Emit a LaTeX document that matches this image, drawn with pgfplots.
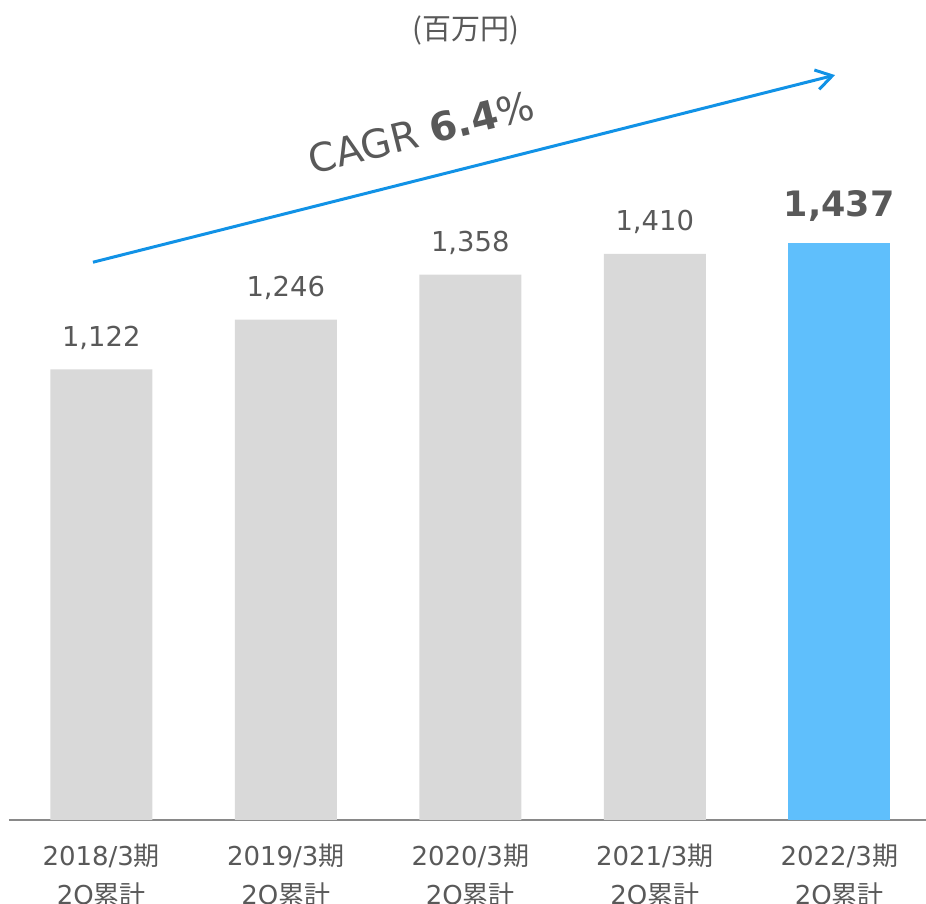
\documentclass[border=0pt]{standalone}
\usepackage{fontspec}
\setmainfont{DejaVu Sans}
\newfontfamily\cjk{Noto Sans CJK JP}
\usepackage{pgfplots}
\pgfplotsset{compat=1.18}
\usetikzlibrary{arrows.meta}
\definecolor{txt}{HTML}{595959}
\definecolor{bargray}{HTML}{D9D9D9}
\definecolor{barblue}{HTML}{5FBFFC}
\definecolor{arrowblue}{HTML}{1192E6}
\definecolor{axisgray}{HTML}{898989}

\begin{document}
\begin{tikzpicture}
\path[use as bounding box] (-4.5pt,-42pt) rectangle (458.5pt,410pt);
\begin{axis}[
  scale only axis, width=458.5pt, height=410pt,
  xmin=-0.5, xmax=4.47, ymin=0, ymax=2042,
  ybar, clip=false,
  axis x line*=bottom, axis y line=none,
  x axis line style={draw=axisgray, line width=1pt},
  xtick={0,...,4}, major tick length=0pt,
  xticklabels={{2018/3{\cjk 期}\\2Q{\cjk 累計}},{2019/3{\cjk 期}\\2Q{\cjk 累計}},{2020/3{\cjk 期}\\2Q{\cjk 累計}},{2021/3{\cjk 期}\\2Q{\cjk 累計}},{2022/3{\cjk 期}\\2Q{\cjk 累計}}},
  xticklabel style={font=\fontsize{13}{19.5}\selectfont, text=txt, align=center, anchor=north, yshift=-8.5pt},
  point meta=explicit symbolic,
]
\addplot[fill=bargray, draw=none, bar width=51pt, bar shift=0pt, nodes near coords,
  every node near coord/.style={anchor=base, yshift=11.5pt, text=txt, font=\fontsize{13.7}{16}\selectfont}]
  coordinates {(0,1122) [1,122] (1,1246) [1,246] (2,1358) [1,358] (3,1410) [1,410]};
\addplot[fill=barblue, draw=none, bar width=51pt, bar shift=0pt, nodes near coords,
  every node near coord/.style={anchor=base, yshift=13pt, text=txt, font=\bfseries\fontsize{17.5}{20}\selectfont}]
  coordinates {(4,1437) [1,437]};
\draw[arrowblue, line width=1.5pt, -{Straight Barb[length=8pt,width=10pt]}] (axis cs:-0.045,1389) -- (axis cs:3.977,1855);
\node[text=txt, rotate=14, font=\fontsize{19.7}{22}\selectfont] at (axis cs:1.735,1713) {CAGR \textbf{6.4}\%};
\node[text=txt, font=\cjk\fontsize{14.5}{17}\selectfont] at (axis cs:1.975,1967) {(百万円)};
\end{axis}
\end{tikzpicture}
\end{document}
